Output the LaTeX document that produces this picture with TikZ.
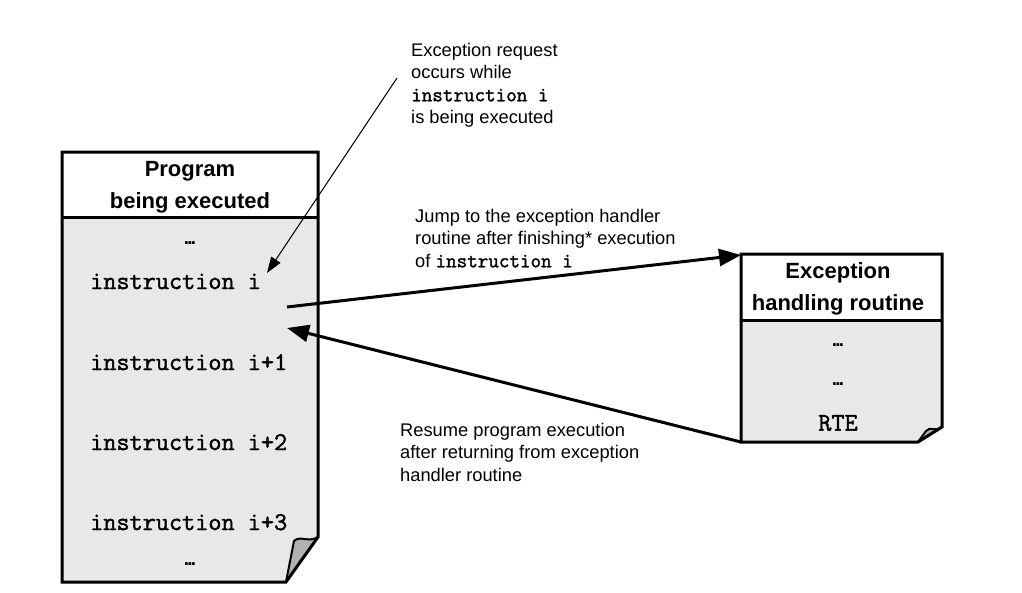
\documentclass[tikz,border=0pt]{standalone}
\usepackage{fontspec}
\setmainfont{Liberation Sans}
\newfontface\codefont{Latin Modern Mono}[FakeBold=1.6]
\usetikzlibrary{arrows.meta}
\tikzset{
  boxline/.style={line width=3pt, line join=miter},
  body/.style={fill=black!9},
  fold/.style={fill=black!30, line width=2pt, line join=round},
  head/.style={font=\fontsize{22}{32}\selectfont\bfseries, align=center, inner sep=0pt},
  instr/.style={font=\fontsize{25.5}{25.5}\selectfont\codefont, anchor=base west, inner sep=0pt},
  dots/.style={font=\fontsize{19}{19}\selectfont\bfseries, inner sep=0pt},
  note/.style={font=\fontsize{18.3}{22.4}\selectfont, align=left, anchor=north west, inner sep=0pt},
  bigarrow/.style={line width=3pt, -{Triangle[length=22pt,width=17pt]}},
  thinarrow/.style={line width=1pt, -{Triangle[length=16pt,width=11pt]}},
}
\newcommand{\ddd}{.\kern-1.8pt.\kern-1.8pt.}
\begin{document}
\begin{tikzpicture}[x=1pt,y=-1pt]
  \useasboundingbox (0,0) rectangle (1022,592);
  % program box
  \fill[white] (62,152) rectangle (318,217);
  \fill[body] (62,217) -- (318,217) -- (318,537) -- (286,582) -- (62,582) -- cycle;
  \draw[fold] (318,537) .. controls (308,543) and (300,535) .. (294,541) -- (286,582) -- cycle;
  \draw[boxline] (62,152) -- (318,152) -- (318,537) -- (286,582) -- (62,582) -- cycle;
  \draw[boxline] (62,217) -- (318,217);
  \node[head] (proghead) at (190,187) {Program\\being executed};
  \node[dots] (progdotsa) at (190,243) {\ddd};
  \node[instr] (instri) at (90,289) {instruction i};
  \node[instr] (instrii) at (90,370) {instruction i+1};
  \node[instr] (instriii) at (90,450) {instruction i+2};
  \node[instr] (instriv) at (90,530) {instruction i+3};
  \node[dots] (progdotsb) at (190,564) {\ddd};
  % handler box
  \fill[white] (741,254) rectangle (942,320);
  \fill[body] (741,320) -- (942,320) -- (942,427) -- (918,442) -- (741,442) -- cycle;
  \draw[fold] (942,427) .. controls (935,432) and (930,426) .. (926,431) -- (918,442) -- cycle;
  \draw[boxline] (741,254) -- (942,254) -- (942,427) -- (918,442) -- (741,442) -- cycle;
  \draw[boxline] (741,320) -- (942,320);
  \node[head] (handhead) at (838,289) {Exception\\handling routine};
  \node[dots] (handdotsa) at (838,345) {\ddd};
  \node[dots] (handdotsb) at (838,384) {\ddd};
  \node[font=\fontsize{25.5}{25.5}\selectfont\codefont, inner sep=0pt] (rte) at (838,423) {RTE};
  % notes
  \node[note] (excnote) at (411,43) {Exception request\\occurs while\\{\codefont\fontsize{20.5}{22.4}\selectfont instruction i}\\is being executed};
  \node[note] (jumpnote) at (415,209) {Jump to the exception handler\\routine after finishing* execution\\of {\codefont\fontsize{20.5}{22.4}\selectfont instruction i}};
  \node[note] (resumenote) at (400,423) {Resume program execution\\after returning from exception\\handler routine};
  % arrows
  \coordinate (notefrom) at (397,78);
  \coordinate (instrtip) at (267,273);
  \coordinate (jumpfrom) at (287,307);
  \coordinate (resumeto) at (287,328);
  \coordinate (handtop) at (741,255);
  \coordinate (handbottom) at (741,442);
  \draw[thinarrow] (notefrom) -- (instrtip);
  \draw[bigarrow] (jumpfrom) -- (handtop);
  \draw[bigarrow] (handbottom) -- (resumeto);
\end{tikzpicture}
\end{document}
